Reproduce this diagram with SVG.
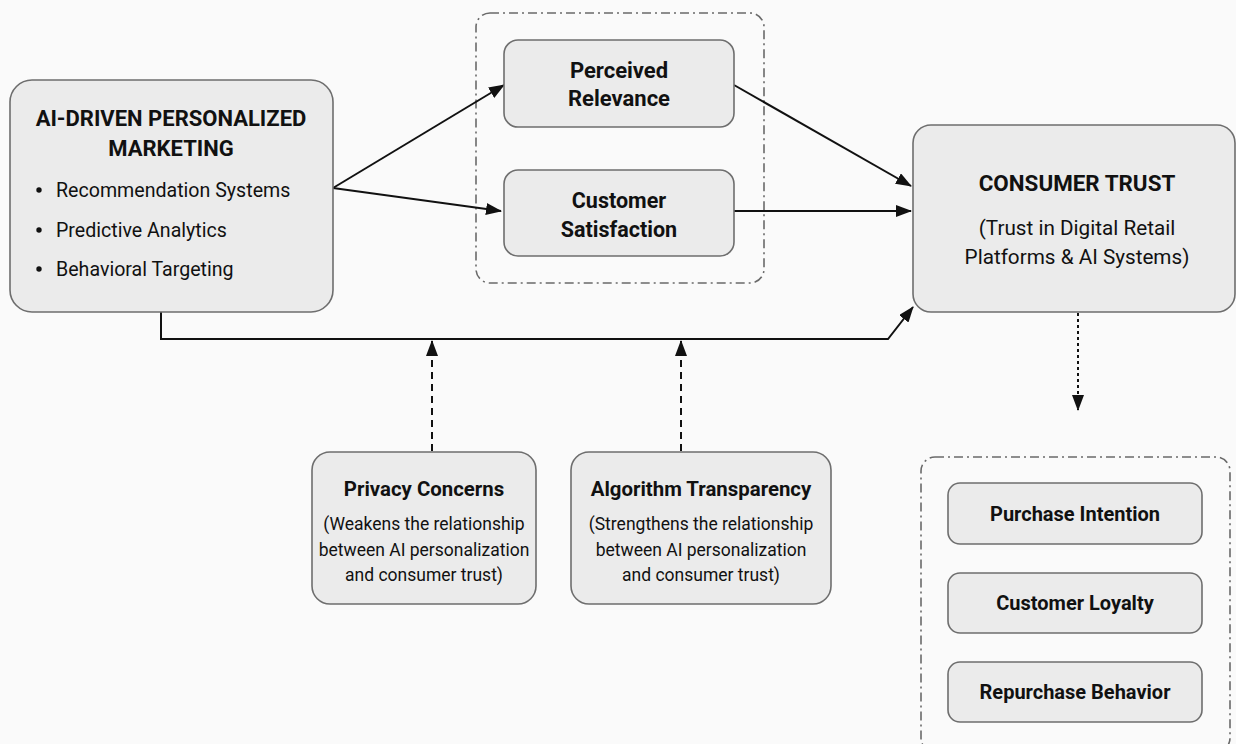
<svg xmlns="http://www.w3.org/2000/svg" width="1236" height="744" viewBox="0 0 1236 744">
<defs>
<style>
.box{fill:#ebebeb;stroke:#6e6e6e;stroke-width:1.6}
.grp{fill:none;stroke:#6a6a6a;stroke-width:1.6;stroke-dasharray:9 4 2 4}
.t{font-family:Roboto,"Liberation Sans",sans-serif;fill:#111;text-anchor:middle}
.b{font-weight:bold}
.con{fill:none;stroke:#111;stroke-width:2}
.dash{stroke-dasharray:7 5}
.dot{stroke-dasharray:3 3}
</style>
<marker id="ah" viewBox="0 0 16 12" refX="15" refY="6" markerWidth="16" markerHeight="12" markerUnits="userSpaceOnUse" orient="auto">
<path d="M0,0 L16,6 L0,12 z" fill="#111"/>
</marker>
</defs>
<rect width="1236" height="744" fill="#fafafa"/>

<g id="group-mediators">
<rect class="grp" x="476" y="13" width="288" height="270" rx="14"/>
</g>
<g id="group-outcomes">
<rect class="grp" x="921" y="457" width="309" height="295" rx="14"/>
</g>

<g id="connectors">
<path class="con" d="M333,188 L504,85" marker-end="url(#ah)"/>
<path class="con" d="M333,188 L501,211" marker-end="url(#ah)"/>
<path class="con" d="M734,85 L911,186" marker-end="url(#ah)"/>
<path class="con" d="M734,211 L911,211" marker-end="url(#ah)"/>
<path class="con" d="M161,312 L161,339 L888,339 L913,307" marker-end="url(#ah)"/>
<path class="con dash" d="M432,451 L432,341" marker-end="url(#ah)"/>
<path class="con dash" d="M681,451 L681,341" marker-end="url(#ah)"/>
<path class="con dot" d="M1078,313 L1078,410" marker-end="url(#ah)"/>
</g>

<g id="ai-marketing">
<rect class="box" x="10" y="80" width="323" height="232" rx="22"/>
<text class="t b" x="171" y="126" font-size="22">AI-DRIVEN PERSONALIZED</text>
<text class="t b" x="171" y="156" font-size="22">MARKETING</text>
<g font-family="Roboto,'Liberation Sans',sans-serif" font-size="19.6" fill="#111">
<circle cx="39" cy="190" r="2.7" fill="#111"/>
<text x="56" y="197">Recommendation Systems</text>
<circle cx="39" cy="230" r="2.7" fill="#111"/>
<text x="56" y="237">Predictive Analytics</text>
<circle cx="39" cy="269" r="2.7" fill="#111"/>
<text x="56" y="276">Behavioral Targeting</text>
</g>
</g>

<g id="perceived-relevance">
<rect class="box" x="504" y="40" width="230" height="87" rx="14"/>
<text class="t b" x="619" y="78" font-size="22">Perceived</text>
<text class="t b" x="619" y="106" font-size="22">Relevance</text>
</g>

<g id="customer-satisfaction">
<rect class="box" x="504" y="170" width="230" height="86" rx="14"/>
<text class="t b" x="619" y="208" font-size="21.5">Customer</text>
<text class="t b" x="619" y="237" font-size="21.5">Satisfaction</text>
</g>

<g id="consumer-trust">
<rect class="box" x="913" y="125" width="322" height="187" rx="18"/>
<text class="t b" x="1077" y="191" font-size="22.4">CONSUMER TRUST</text>
<text class="t" x="1077" y="235" font-size="20.7">(Trust in Digital Retail</text>
<text class="t" x="1077" y="264" font-size="20.7">Platforms &amp; AI Systems)</text>
</g>

<g id="privacy-concerns">
<rect class="box" x="312" y="452" width="224" height="152" rx="18"/>
<text class="t b" x="424" y="496" font-size="20.4">Privacy Concerns</text>
<text class="t" x="424" y="530" font-size="17.5">(Weakens the relationship</text>
<text class="t" x="424" y="556" font-size="17.5">between AI personalization</text>
<text class="t" x="424" y="581" font-size="17.5">and consumer trust)</text>
</g>

<g id="algorithm-transparency">
<rect class="box" x="571" y="452" width="260" height="152" rx="18"/>
<text class="t b" x="701" y="496" font-size="20.4">Algorithm Transparency</text>
<text class="t" x="701" y="530" font-size="17.5">(Strengthens the relationship</text>
<text class="t" x="701" y="556" font-size="17.5">between AI personalization</text>
<text class="t" x="701" y="581" font-size="17.5">and consumer trust)</text>
</g>

<g id="purchase-intention">
<rect class="box" x="948" y="483" width="254" height="61" rx="12"/>
<text class="t b" x="1075" y="521" font-size="20">Purchase Intention</text>
</g>
<g id="customer-loyalty">
<rect class="box" x="948" y="573" width="254" height="60" rx="12"/>
<text class="t b" x="1075" y="610" font-size="20">Customer Loyalty</text>
</g>
<g id="repurchase-behavior">
<rect class="box" x="948" y="662" width="254" height="60" rx="12"/>
<text class="t b" x="1075" y="699" font-size="20">Repurchase Behavior</text>
</g>
</svg>
